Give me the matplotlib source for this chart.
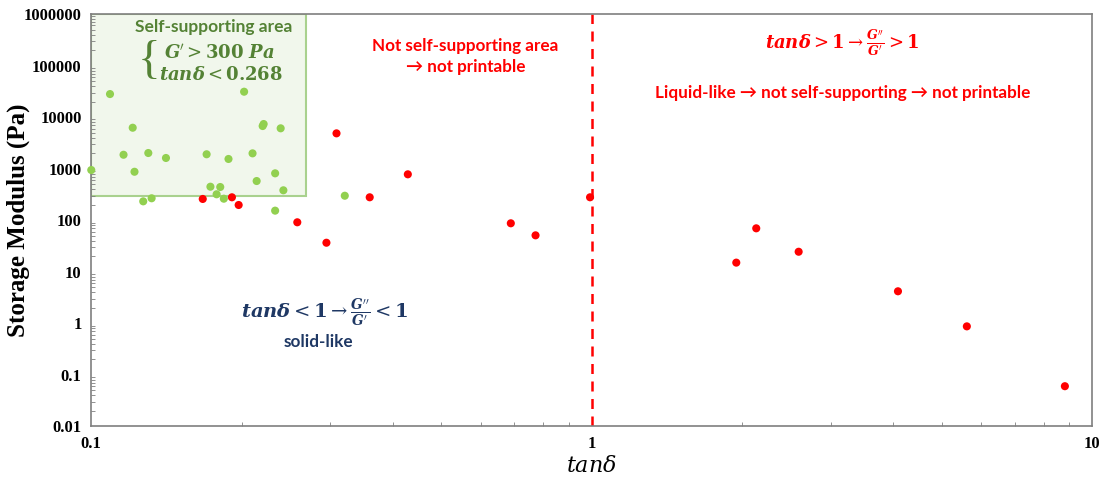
import matplotlib
matplotlib.use("Agg")
import matplotlib.pyplot as plt
from matplotlib.patches import Rectangle
from matplotlib.ticker import FixedLocator, LogLocator, FuncFormatter, NullFormatter

plt.rcParams['mathtext.fontset'] = 'dejavuserif'

# samples inside / near the self-supporting window
green_tan = [0.100, 0.109, 0.121, 0.116, 0.122, 0.130, 0.141, 0.127, 0.132, 0.170,
             0.173, 0.181, 0.178, 0.184, 0.188, 0.202, 0.210, 0.214, 0.220, 0.221,
             0.233, 0.239, 0.242, 0.233, 0.321]
green_G = [940, 28000, 6220, 1860, 870, 2010, 1610, 232, 266, 1900,
           446, 440, 318, 261, 1540, 31100, 1980, 575, 6710, 7340,
           811, 6060, 380, 153, 298]

# samples outside the window
red_tan = [0.167, 0.191, 0.197, 0.309, 0.360, 0.258, 0.295, 0.429, 0.689, 0.772,
           0.992, 1.944, 2.131, 2.590, 4.09, 5.615, 8.815]
red_G = [258, 278, 197, 4840, 278, 91, 36.5, 776, 87, 50.8,
         278, 15.0, 69.5, 24.4, 4.17, 0.87, 0.060]

# self-supporting limits
tan_limit = 0.268
G_limit = 300

y_ticks = [0.01, 0.1, 1, 10, 100, 1000, 10000, 100000, 1000000]
x_ticks = [0.1, 1, 10]

green_txt = '#548235'
green_dot = '#92d050'
navy = '#1f3864'

fig = plt.figure(figsize=(11.01, 4.79), dpi=100)
ax = fig.add_axes([0.0829, 0.110, 0.9092, 0.8607])
ax.set_xscale('log')
ax.set_yscale('log')
ax.set_xlim(0.1, 10)
ax.set_ylim(0.01, 1000000)

ax.add_patch(Rectangle((0.1, G_limit), tan_limit - 0.1, 1000000 - G_limit,
                       facecolor='#f1f7ec', edgecolor='#a9d18e', lw=1.5, zorder=1))
ax.axvline(1, color='#ff0000', lw=1.8, ls=(0, (4, 3)), zorder=2)

ax.scatter(green_tan, green_G, s=34, color=green_dot, edgecolors='none', zorder=3, clip_on=False)
ax.scatter(red_tan, red_G, s=34, color='#ff0000', edgecolors='none', zorder=3, clip_on=False)

for sp in ax.spines.values():
    sp.set_color('#7f7f7f')
    sp.set_linewidth(1.2)

fmt = FuncFormatter(lambda v, p: ('%g' % v) if v < 1e5 else '%d' % v)
ax.xaxis.set_major_locator(FixedLocator(x_ticks))
ax.yaxis.set_major_locator(FixedLocator(y_ticks))
ax.xaxis.set_major_formatter(fmt)
ax.yaxis.set_major_formatter(fmt)
ax.xaxis.set_minor_locator(LogLocator(base=10, subs=range(2, 10), numticks=20))
ax.yaxis.set_minor_locator(LogLocator(base=10, subs=range(2, 10), numticks=20))
ax.xaxis.set_minor_formatter(NullFormatter())
ax.yaxis.set_minor_formatter(NullFormatter())
ax.tick_params(which='both', direction='in', color='#7f7f7f', top=False, right=False)
ax.tick_params(which='major', length=0, pad=7)
ax.tick_params(which='minor', length=3)
for lab in ax.get_xticklabels() + ax.get_yticklabels():
    lab.set_fontfamily('Liberation Serif')
    lab.set_fontweight('bold')
    lab.set_fontsize(12)

# axis titles
fig.text(18 / 1101, 1 - 220 / 479, 'Storage Modulus (Pa)', rotation=90, ha='center', va='center',
         fontfamily='Liberation Serif', fontweight='bold', fontsize=18)
fig.text(591 / 1101, 1 - 466 / 479, r'$\mathit{tan\delta}$', ha='center', va='center', fontsize=16)

sans = ['Lato', 'DejaVu Sans']

# self-supporting box labels
ax.text(0.1226, 0.968, 'Self-supporting area', transform=ax.transAxes, ha='center', va='center',
        color=green_txt, fontfamily=sans, fontweight='bold', fontsize=12.5)
ax.text(0.0572, 0.884, '{', transform=ax.transAxes, ha='center', va='center',
        color=green_txt, fontfamily='Liberation Serif', fontweight='light', fontsize=34)
ax.text(0.0726, 0.905, r'$\mathbfit{G}^{\prime} > \mathbf{300}\ \mathbfit{Pa}$',
        transform=ax.transAxes, ha='left', va='center', color=green_txt, fontsize=13)
ax.text(0.0676, 0.852, r'$\mathbfit{tan\delta} < \mathbf{0.268}$',
        transform=ax.transAxes, ha='left', va='center', color=green_txt, fontsize=13)

ax.text(0.374, 0.922, 'Not self-supporting area', transform=ax.transAxes, ha='center', va='center',
        color='#ff0000', fontfamily=sans, fontweight='bold', fontsize=12.3)
ax.text(0.374, 0.871, '\u2192 not printable', transform=ax.transAxes, ha='center', va='center',
        color='#ff0000', fontfamily=sans, fontweight='bold', fontsize=12.3)

ax.text(0.750, 0.930,
        r'$\mathbfit{tan\delta} > \mathbf{1} \rightarrow \frac{\mathbfit{G}^{\prime\prime}}{\mathbfit{G}^{\prime}} > \mathbf{1}$',
        transform=ax.transAxes, ha='center', va='center', color='#ff0000', fontsize=13)
ax.text(0.751, 0.808, 'Liquid-like \u2192 not self-supporting \u2192 not printable',
        transform=ax.transAxes, ha='center', va='center', color='#ff0000',
        fontfamily=sans, fontweight='bold', fontsize=12.3)

ax.text(0.233, 0.274,
        r'$\mathbfit{tan\delta} < \mathbf{1} \rightarrow \frac{\mathbfit{G}^{\prime\prime}}{\mathbfit{G}^{\prime}} < \mathbf{1}$',
        transform=ax.transAxes, ha='center', va='center', color=navy, fontsize=14)
ax.text(0.2265, 0.204, 'solid-like', transform=ax.transAxes, ha='center', va='center',
        color=navy, fontfamily=sans, fontweight='bold', fontsize=12.3)

fig.savefig('out.png', dpi=100)
